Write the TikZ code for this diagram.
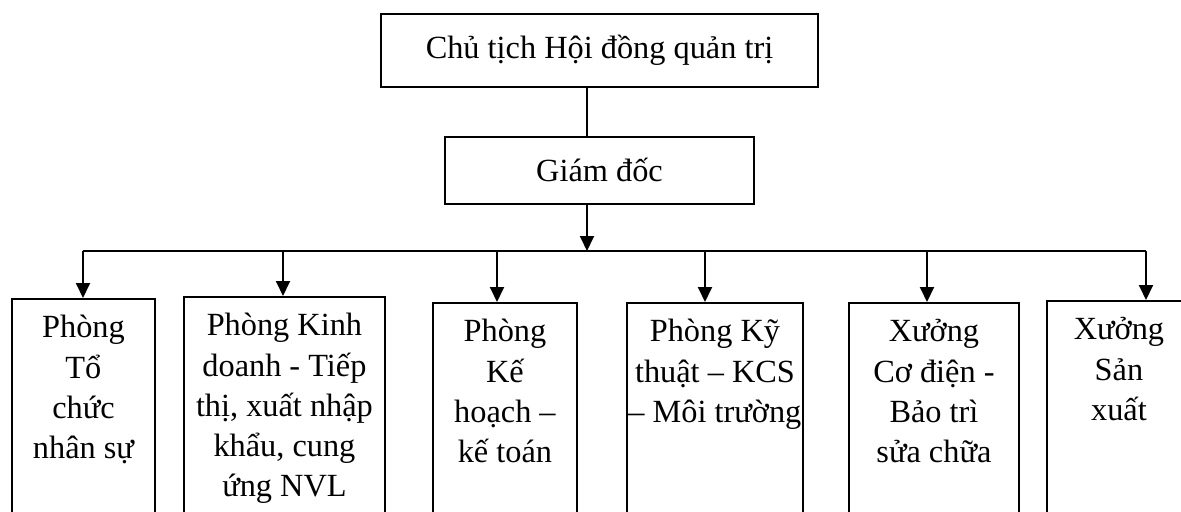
\documentclass[tikz,border=0pt]{standalone}
\usepackage{fontspec}
\setmainfont{Liberation Serif}
\usetikzlibrary{positioning, arrows.meta}

\begin{document}
\begin{tikzpicture}[
  x=0.02cm, y=-0.02cm,
  line width=1.1pt,
  node distance=0.96cm,
  head/.style={draw, font=\fontsize{18.4pt}{22.9pt}\selectfont, align=center},
  dept/.style={draw, anchor=north west, inner ysep=0pt, inner xsep=-0.1cm, font=\fontsize{18.4pt}{22.9pt}\selectfont, align=flush center, text height=0.78cm, text depth=8cm},
  arr/.style={-{Triangle[length=0.3cm, width=0.28cm]}}
]
\useasboundingbox (0,0) rectangle (1181,511);
\clip (0,0) rectangle (1181,511);

\node[head, minimum width=8.74cm, minimum height=1.46cm] (ct) at (599.5,50.5) {Chủ tịch Hội đồng quản trị};
\node[head, below=of ct, minimum width=6.18cm, minimum height=1.34cm] (gd) {Giám đốc};

\node[dept, text width=3.06cm] (p1) at (11,298) {Phòng\\Tổ\\chức\\nhân sự};
\node[dept, text width=4.22cm] (p2) at (183,296) {Phòng Kinh\\doanh - Tiếp\\thị, xuất nhập\\khẩu, cung\\ứng NVL};
\node[dept, text width=3.08cm] (p3) at (432,302) {Phòng\\Kế\\hoạch –\\kế toán};
\node[dept, text width=3.72cm] (p4) at (626,302) {Phòng Kỹ\\thuật – KCS\\– Môi trường};
\node[dept, text width=3.60cm] (p5) at (848,302) {Xưởng\\Cơ điện -\\Bảo trì\\sửa chữa};
\node[dept, text width=3.08cm] (p6) at (1046,300) {Xưởng\\Sản\\xuất};

% bus line
\coordinate (jn) at (587,251);
\coordinate (a1) at (83,251);
\coordinate (a2) at (283,251);
\coordinate (a3) at (497,251);
\coordinate (a4) at (705,251);
\coordinate (a5) at (927,251);
\coordinate (a6) at (1146,251);

\draw (ct.south -| jn) -- (gd.north -| jn);
\draw[arr] (gd.south -| jn) -- (jn);
\draw (a1) -- (a6);

\draw[arr] (a1) -- (a1 |- p1.north);
\draw[arr] (a2) -- (a2 |- p2.north);
\draw[arr] (a3) -- (a3 |- p3.north);
\draw[arr] (a4) -- (a4 |- p4.north);
\draw[arr] (a5) -- (a5 |- p5.north);
\draw[arr] (a6) -- (a6 |- p6.north);
\end{tikzpicture}
\end{document}
